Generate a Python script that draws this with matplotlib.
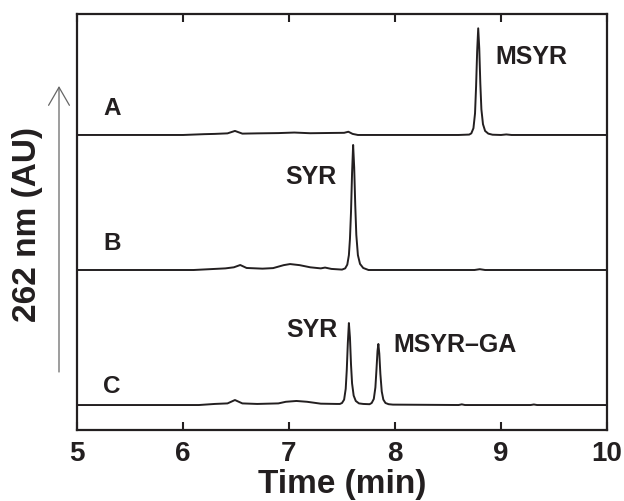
import matplotlib
matplotlib.use('Agg')
import matplotlib.pyplot as plt
import numpy as np

plt.rcParams['font.family'] = ['Liberation Sans', 'DejaVu Sans']
plt.rcParams['font.weight'] = 'bold'

# chromatogram A (time in min, signal in stacked units)
time_a = [5.00, 6.00, 6.20, 6.30, 6.42, 6.49, 6.56, 6.70, 6.90, 7.05, 7.20, 7.40, 7.52, 7.56,
          7.60, 7.65, 8.60, 8.70, 8.72, 8.74, 8.755, 8.765, 8.775, 8.785, 8.795, 8.805,
          8.815, 8.83, 8.85, 8.88, 8.92, 9.00, 9.05, 9.10, 10.00]
signal_a = [0.000, 0.000, 0.006, 0.008, 0.012, 0.030, 0.010, 0.012, 0.014, 0.018, 0.013, 0.015,
            0.016, 0.024, 0.008, 0.000, 0.000, 0.003, 0.012, 0.050, 0.160, 0.360, 0.620, 0.790,
            0.640, 0.380, 0.190, 0.080, 0.030, 0.010, 0.002, 0.000, 0.004, 0.000, 0.000]

# chromatogram B
time_b = [5.00, 6.10, 6.25, 6.40, 6.48, 6.54, 6.60, 6.75, 6.85, 6.95, 7.01, 7.10, 7.20, 7.30,
          7.34, 7.40, 7.50, 7.53, 7.55, 7.565, 7.575, 7.585, 7.595, 7.605, 7.615, 7.625,
          7.635, 7.65, 7.67, 7.70, 7.75, 8.75, 8.80, 8.85, 10.00]
signal_b = [0.000, 0.000, 0.006, 0.012, 0.020, 0.037, 0.015, 0.010, 0.014, 0.036, 0.044, 0.036,
            0.020, 0.012, 0.018, 0.008, 0.003, 0.012, 0.040, 0.110, 0.230, 0.430, 0.720, 0.926,
            0.760, 0.480, 0.260, 0.110, 0.045, 0.015, 0.000, 0.000, 0.006, 0.000, 0.000]

# chromatogram C
time_c = [5.00, 6.15, 6.30, 6.42, 6.49, 6.56, 6.70, 6.90, 6.97, 7.07, 7.17, 7.30, 7.45, 7.48,
          7.50, 7.52, 7.535, 7.545, 7.555, 7.565, 7.575, 7.585, 7.595, 7.61, 7.63, 7.66,
          7.70, 7.76, 7.78, 7.80, 7.815, 7.825, 7.835, 7.843, 7.852, 7.862, 7.875, 7.89,
          7.91, 7.94, 7.98, 8.60, 8.63, 8.66, 9.28, 9.31, 9.34, 10.00]
signal_c = [0.000, 0.000, 0.008, 0.012, 0.037, 0.012, 0.008, 0.012, 0.024, 0.030, 0.024, 0.010,
            0.008, 0.008, 0.015, 0.040, 0.120, 0.260, 0.460, 0.607, 0.500, 0.300, 0.160, 0.070,
            0.030, 0.012, 0.008, 0.006, 0.015, 0.045, 0.130, 0.260, 0.400, 0.452, 0.380, 0.230,
            0.100, 0.040, 0.015, 0.006, 0.003, 0.000, 0.005, 0.000, 0.000, 0.004, 0.000, 0.000]

trace_names = ['A', 'B', 'C']
x_ticks = [5, 6, 7, 8, 9, 10]

ink = '#231f20'

fig = plt.figure(figsize=(6.24, 5.02), dpi=100)
ax = fig.add_axes([77 / 624, 71 / 502, 530 / 624, 416 / 502])

traces = [(time_a, signal_a, 2), (time_b, signal_b, 1), (time_c, signal_c, 0)]
for t, s, off in traces:
    ax.plot(t, np.array(s) + off, color=ink, lw=1.4, solid_joinstyle='round')

ax.set_xlim(5, 10)
ax.set_ylim(-0.185, 2.896)
ax.set_xticks(x_ticks)
ax.set_xticklabels([str(v) for v in x_ticks], fontsize=20, fontweight='bold')
ax.set_yticks([])
ax.tick_params(axis='x', direction='in', top=True, length=6, width=1.5, pad=7, colors=ink)
for sp in ax.spines.values():
    sp.set_linewidth(1.6)
    sp.set_color(ink)

# trace letters
for name, y in zip(trace_names, [2.207, 1.207, 0.141]):
    ax.text(5.33, y, name, fontsize=17.5, fontweight='bold', ha='center', va='center', color=ink)

# peak labels
ax.text(9.283, 2.585, 'MSYR', fontsize=18, fontweight='bold', ha='center', va='center', color=ink)
ax.text(7.208, 1.696, 'SYR', fontsize=18, fontweight='bold', ha='center', va='center', color=ink)
ax.text(7.217, 0.563, 'SYR', fontsize=18, fontweight='bold', ha='center', va='center', color=ink)
ax.text(8.566, 0.452, 'MSYR\u2013GA', fontsize=18, fontweight='bold', ha='center', va='center', color=ink)

ax.set_xlabel('Time (min)', fontsize=24, fontweight='bold', labelpad=2, color=ink)
fig.text(28 / 624, 1 - 224 / 502, '262 nm (AU)', rotation=90, fontsize=24, fontweight='bold',
         ha='center', va='center', color=ink)

# vertical arrow beside the y label
ax.annotate('', xy=(59 / 624, 1 - 87 / 502), xycoords='figure fraction',
            xytext=(59 / 624, 1 - 373 / 502), textcoords='figure fraction',
            arrowprops=dict(arrowstyle='->,head_length=1.3,head_width=0.75', mutation_scale=10,
                            color='#666666', lw=0.9, shrinkA=0, shrinkB=0),
            annotation_clip=False)

fig.savefig('out.png', dpi=100)
